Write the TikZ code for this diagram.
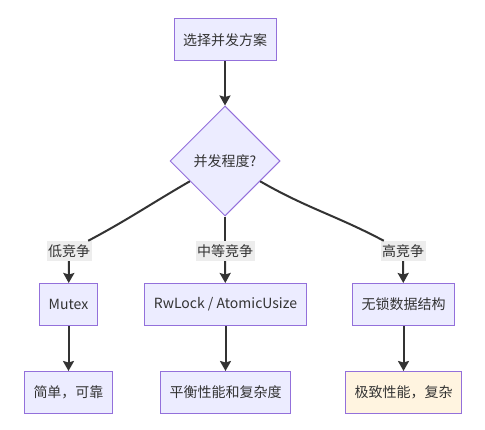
\documentclass[tikz,border=0pt]{standalone}
\usepackage{fontspec}
\setmainfont{Noto Sans CJK SC}
\usepackage{xcolor}
\usetikzlibrary{arrows.meta,positioning,shapes.geometric}
\definecolor{nodefill}{HTML}{ECECFF}
\definecolor{nodeline}{HTML}{9370DB}
\definecolor{edgeline}{HTML}{333333}
\definecolor{lblfill}{HTML}{EDEDED}
\definecolor{warmfill}{HTML}{FFF4E0}

\begin{document}
\begin{tikzpicture}[x=1pt, y=1pt,
      font=\fontsize{14pt}{17pt}\selectfont, text=edgeline,
      box/.style={draw=nodeline, fill=nodefill, line width=1pt, minimum height=42pt, inner xsep=9pt},
      decision/.style={diamond, draw=nodeline, fill=nodefill, line width=1pt, minimum width=110pt, minimum height=110pt, inner sep=0pt},
      lbl/.style={fill=lblfill, inner sep=1.5pt, minimum height=20pt},
      link/.style={draw=edgeline, line width=2pt},
      arr/.style={link, -{Stealth[length=10pt, width=11pt, inset=1.5pt]}},
    ]
      \path[fill=white, use as bounding box] (0,0) rectangle (485,429);

      \node[box] (plan) at (225,389) {选择并发方案};
      \node[decision, below=44pt of plan] (degree) {并发程度?};

      \node[lbl] (low) at (69,178) {低竞争};
      \node[lbl] (mid) at (225,178) {中等竞争};
      \node[lbl] (high) at (403,178) {高竞争};

      \node[box] (mutex) at (68.5,124.5) {Mutex};
      \node[box] (rwlock) at (225.5,124.5) {RwLock / AtomicUsize};
      \node[box] (lockfree) at (403.5,124.5) {无锁数据结构};

      \node[box, below=45pt of mutex] (simple) {简单，可靠};
      \node[box, below=45pt of rwlock] (balance) {平衡性能和复杂度};
      \node[box, fill=warmfill, below=45pt of lockfree] (extreme) {极致性能，复杂};

      \draw[arr] (plan) -- (degree);
      \draw[link] (degree) to[out=-150, in=28] (low);
      \draw[arr] (low) -- (mutex);
      \draw[link] (degree) -- (mid);
      \draw[arr] (mid) -- (rwlock);
      \draw[link] (degree) to[out=-30, in=152] (high);
      \draw[arr] (high) -- (lockfree);

      \draw[arr] (mutex) -- (simple);
      \draw[arr] (rwlock) -- (balance);
      \draw[arr] (lockfree) -- (extreme);
    \end{tikzpicture}
\end{document}
